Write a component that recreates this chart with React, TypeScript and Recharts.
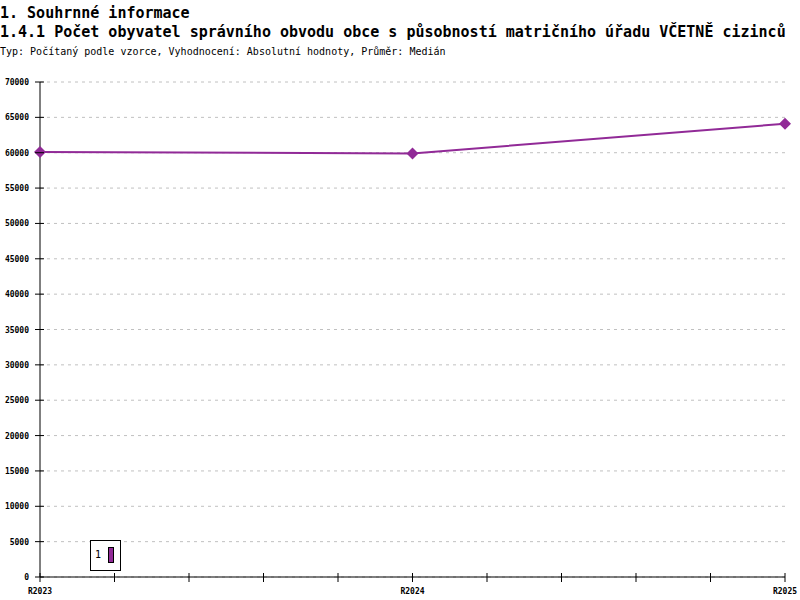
import React from 'react';
import { LineChart, Line, XAxis, YAxis, CartesianGrid } from 'recharts';

const categories = ['R2023', 'R2024', 'R2025'];
const values = [60100, 59900, 64100];
const yTicks = [0, 5000, 10000, 15000, 20000, 25000, 30000, 35000, 40000, 45000, 50000, 55000, 60000, 65000, 70000];
const xTicks = [0, 1, 2, 3, 4, 5, 6, 7, 8, 9, 10];
const seriesLabel = '1';

const STEP = 5;
const COLOR = '#912a97';
const FONT = '"DejaVu Sans Mono", monospace';

const data = categories.map((c, i) => ({ pos: i * STEP, name: c, value: values[i] }));

const YTick = (props: any) => {
  const { x, y, payload } = props;
  return (
    <g>
      <line x1={x - 5} x2={x + 4} y1={y} y2={y} stroke="#000" strokeWidth={1} />
      <text x={x - 11} y={y + 3} textAnchor="end" fontFamily={FONT} fontSize={8} fontWeight="bold" fill="#000">
        {payload.value}
      </text>
    </g>
  );
};

const XTick = (props: any) => {
  const { x, y, payload } = props;
  const v = payload.value;
  const label = v % STEP === 0 ? categories[v / STEP] : '';
  return (
    <g>
      <line x1={x} x2={x} y1={y - 4} y2={y + 5} stroke="#000" strokeWidth={1} />
      {label && (
        <text x={x} y={y + 17} textAnchor="middle" fontFamily={FONT} fontSize={8} fontWeight="bold" fill="#000">
          {label}
        </text>
      )}
    </g>
  );
};

const Diamond = (props: any) => {
  const { cx, cy } = props;
  if (cx == null || cy == null) return null;
  const r = 6;
  return <polygon points={`${cx},${cy - r} ${cx + r},${cy} ${cx},${cy + r} ${cx - r},${cy}`} fill={COLOR} />;
};

export default function App() {
  return (
    <div style={{ position: 'relative', width: 800, height: 600, background: '#fff', fontFamily: FONT }}>
      <style>{'body{margin:0}'}</style>
      <div style={{ position: 'absolute', left: 0, top: 4, fontSize: 15, fontWeight: 'bold', whiteSpace: 'nowrap', lineHeight: '19px' }}>
        1. Souhrnné informace
      </div>
      <div style={{ position: 'absolute', left: 0, top: 23, fontSize: 15, fontWeight: 'bold', whiteSpace: 'nowrap', lineHeight: '19px' }}>
        1.4.1 Počet obyvatel správního obvodu obce s působností matričního úřadu VČETNĚ cizinců
      </div>
      <div style={{ position: 'absolute', left: 0, top: 45, fontSize: 10, whiteSpace: 'nowrap', lineHeight: '14px' }}>
        Typ: Počítaný podle vzorce, Vyhodnocení: Absolutní hodnoty, Průměr: Medián
      </div>
      <div style={{ position: 'absolute', left: 0, top: 0 }}>
        <LineChart width={800} height={600} data={data} margin={{ top: 82, right: 15, bottom: 0, left: 0 }}>
          <CartesianGrid vertical={false} stroke="#c0c0c0" strokeDasharray="3 4" />
          <XAxis
            dataKey="pos"
            type="number"
            domain={[0, 10]}
            ticks={xTicks}
            interval={0}
            height={23}
            tickSize={0}
            tickMargin={0}
            tickLine={false}
            axisLine={{ stroke: '#000' }}
            tick={<XTick />}
          />
          <YAxis
            domain={[0, 70000]}
            ticks={yTicks}
            interval={0}
            width={40}
            tickSize={0}
            tickMargin={0}
            tickLine={false}
            axisLine={{ stroke: '#000' }}
            tick={<YTick />}
          />
          <YAxis
            yAxisId="right"
            orientation="right"
            domain={[0, 70000]}
            width={0}
            tick={false}
            tickLine={false}
            axisLine={{ stroke: '#000' }}
          />
          <Line
            type="linear"
            dataKey="value"
            stroke={COLOR}
            strokeWidth={2}
            dot={<Diamond />}
            activeDot={false}
            isAnimationActive={false}
          />
        </LineChart>
      </div>
      <div
        style={{
          position: 'absolute',
          left: 90,
          top: 540,
          width: 29,
          height: 29,
          border: '1px solid #000',
          background: '#fff',
        }}
      >
        <span style={{ position: 'absolute', left: 4, top: 8, fontSize: 10, lineHeight: '12px' }}>{seriesLabel}</span>
        <div
          style={{
            position: 'absolute',
            left: 17,
            top: 6,
            width: 4,
            height: 14,
            background: COLOR,
            border: '1px solid #000',
          }}
        />
      </div>
    </div>
  );
}
